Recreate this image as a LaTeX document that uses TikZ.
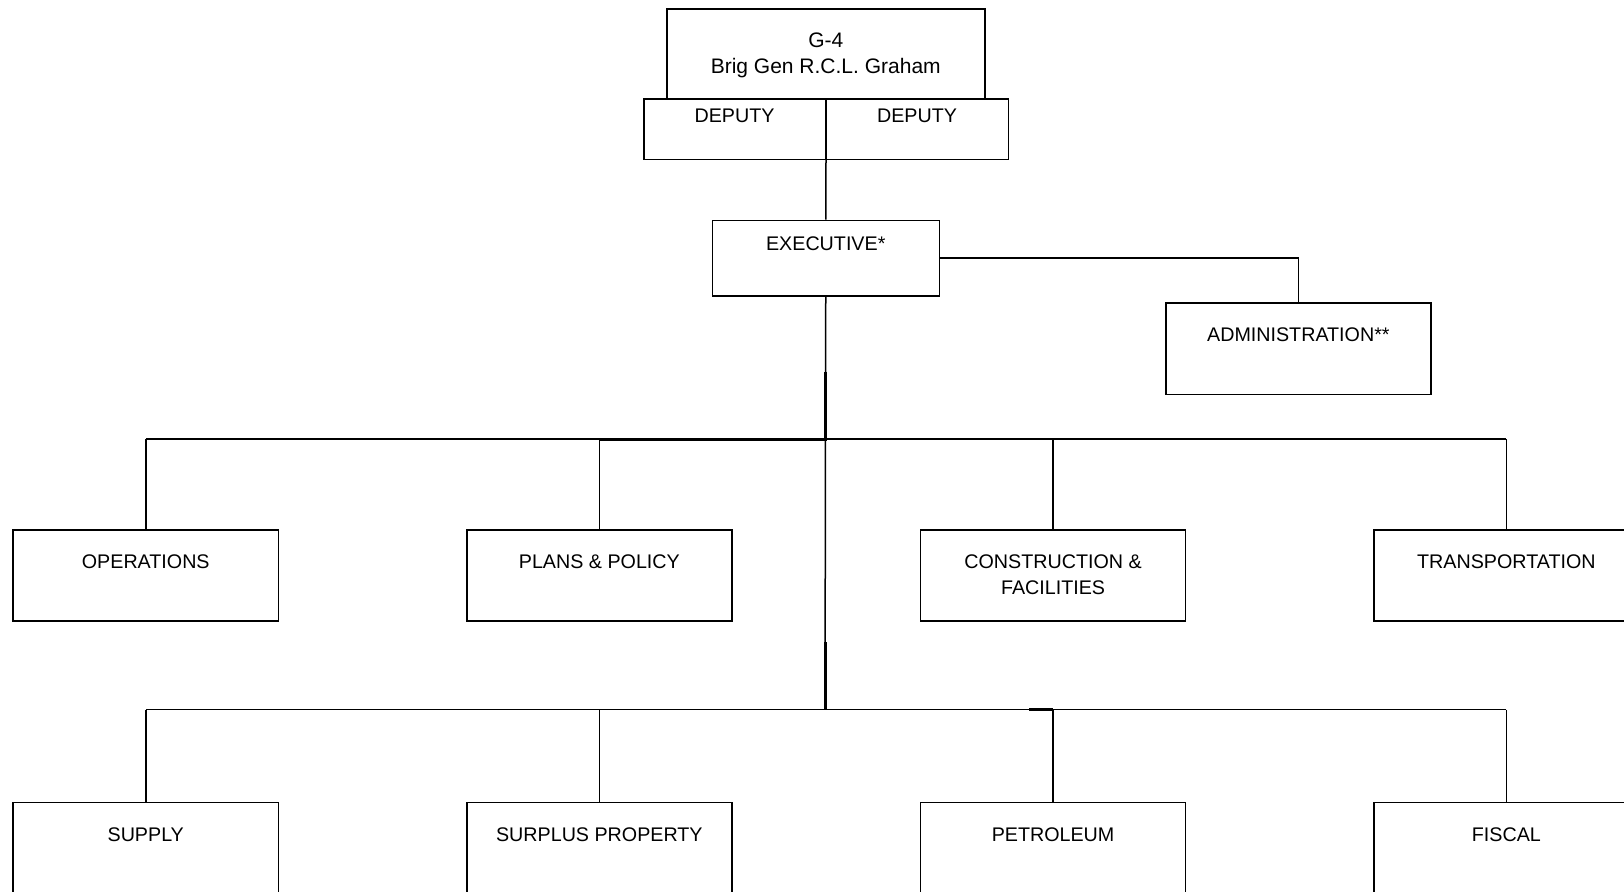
\documentclass[tikz,border=0pt]{standalone}
\usepackage{fontspec}
\setmainfont{Liberation Sans}
\begin{document}
\begin{tikzpicture}[x=1pt,y=-1pt,
  line width=1.5pt,
  box/.style={draw, line width=1.5pt, inner sep=0pt, anchor=north west, minimum width=265.2pt, minimum height=#1},
  box/.default=91pt,
  lbl/.style={inner sep=0pt, anchor=north, align=center, font=\fontsize{19.7}{26}\selectfont},
  heavy/.style={line width=3pt}
]
\clip (0,0) rectangle (1624,891);
\fill[white] (0,0) rectangle (1624,891);
% top
\node[box, minimum width=318pt, minimum height=90.1pt] (g4) at (666,8.3) {};
\node[lbl, font=\fontsize{21}{26}\selectfont] (g4t) at ([yshift=-24pt]g4.north) {G-4\\Brig Gen R.C.L. Graham};
\node[box, minimum width=181.5pt, minimum height=60.1pt] (depl) at (643,98.4) {};
\node[box, minimum width=182.5pt, minimum height=60.1pt] (depr) at (825,98.4) {};
\node[lbl] (deplt) at ([yshift=-10pt]depl.north) {DEPUTY};
\node[lbl] (deprt) at ([yshift=-10pt]depr.north) {DEPUTY};
% executive
\node[box, minimum width=227pt, minimum height=75.6pt] (exec) at (711.5,219.6) {};
\node[lbl] (exect) at ([yshift=-16.5pt]exec.north) {EXECUTIVE*};
\node[box, minimum height=91.2pt] (admin) at (1165,302.4) {};
\node[lbl] (admint) at ([yshift=-25pt]admin.north) {ADMINISTRATION**};
% row 1
\node[box] (ops) at (12.4,529) {};
\node[box] (plans) at (466,529) {};
\node[box] (cons) at (919.7,529) {};
\node[box] (trans) at (1373,529) {};
\node[lbl] (opst) at ([yshift=-25pt]ops.north) {OPERATIONS};
\node[lbl] (planst) at ([yshift=-25pt]plans.north) {PLANS \& POLICY};
\node[lbl] (const) at ([yshift=-25pt]cons.north) {CONSTRUCTION \&\\FACILITIES};
\node[lbl] (transt) at ([yshift=-25pt]trans.north) {TRANSPORTATION};
% row 2
\node[box, minimum height=95pt] (sup) at (12.4,801.6) {};
\node[box, minimum height=95pt] (surp) at (466,801.6) {};
\node[box, minimum height=95pt] (pet) at (919.7,801.6) {};
\node[box, minimum height=95pt] (fisc) at (1373,801.6) {};
\node[lbl] (supt) at ([yshift=-25pt]sup.north) {SUPPLY};
\node[lbl] (surpt) at ([yshift=-25pt]surp.north) {SURPLUS PROPERTY};
\node[lbl] (pett) at ([yshift=-25pt]pet.north) {PETROLEUM};
\node[lbl] (fisct) at ([yshift=-25pt]fisc.north) {FISCAL};
% connectors
\coordinate (bus1) at (825,439);
\coordinate (bus2) at (825,709.5);
\coordinate (k1) at (825,371.5);
\coordinate (k2) at (825,642);
\coordinate (k3) at (1029,709.5);
\draw (depl.south east) -- (exec.north);
\draw (exec.east) -| (admin.north);
\draw (exec.south) -- (bus2);
\draw[heavy] (k1) -- (bus1) -- (bus1 -| plans.north);
\draw[heavy] (k2) -- (bus2);
\draw (bus1 -| ops.north) -- (bus1 -| trans.north);
\draw (bus2 -| sup.north) -- (bus2 -| fisc.north);
\draw[heavy] (k3) -- (k3 -| pet.north);
\foreach \n in {ops,plans,cons,trans}{\draw (bus1 -| \n.north) -- (\n.north);}
\foreach \n in {sup,surp,pet,fisc}{\draw (bus2 -| \n.north) -- (\n.north);}
\end{tikzpicture}
\end{document}
